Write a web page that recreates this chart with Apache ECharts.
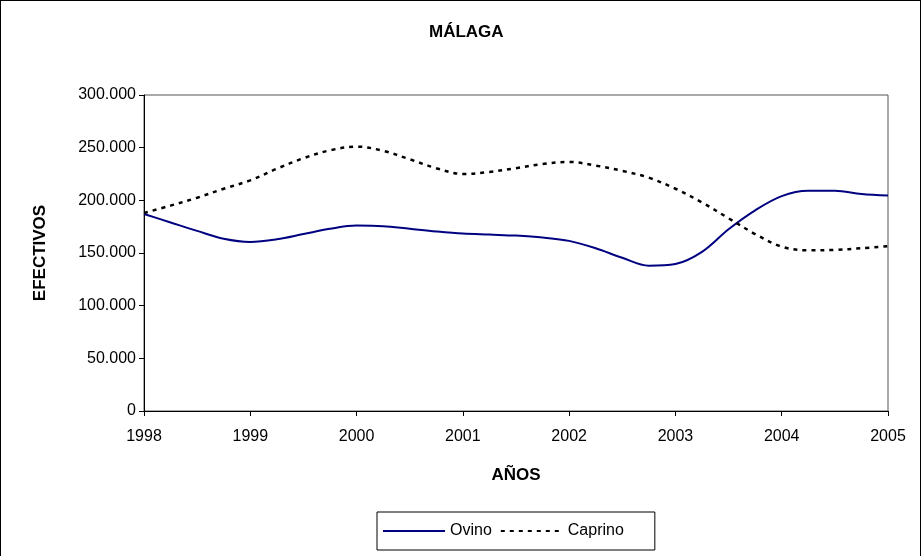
<!DOCTYPE html>
<html>
<head>
<meta charset="utf-8">
<script src="https://cdn.jsdelivr.net/npm/echarts@6/dist/echarts.min.js"></script>
<style>
  html, body { margin: 0; padding: 0; background: #fff; }
  #chart { width: 921px; height: 556px; box-sizing: border-box; border: 1px solid #000; border-bottom: none; }
</style>
</head>
<body>
<div id="chart"></div>
<script>
// Census sample dates (fractional years, quarterly)
const fechas = [
  1998.00, 1998.25, 1998.50, 1998.75,
  1999.00, 1999.25, 1999.50, 1999.75,
  2000.00, 2000.25, 2000.50, 2000.75,
  2001.00, 2001.25, 2001.50, 2001.75,
  2002.00, 2002.25, 2002.50, 2002.75,
  2003.00, 2003.25, 2003.50, 2003.75,
  2004.00, 2004.25, 2004.50, 2004.75,
  2005.00
];

// Head counts (animals)
const ovino = [
  187000, 179000, 171000, 163500,
  160500, 163000, 168000, 173000,
  176000, 175500, 173000, 170500,
  168500, 167500, 166500, 164700,
  161500, 154500, 145500, 138000,
  139500, 151000, 172500, 190500,
  204000, 209000, 209000, 206000,
  204500
];

const caprino = [
  188000, 195000, 202500, 211000,
  219000, 230000, 240000, 247500,
  251000, 247000, 239000, 230500,
  225000, 227000, 230500, 234500,
  236500, 233000, 228000, 221500,
  211000, 198000, 183000, 168000,
  156000, 152500, 153000, 154500,
  156500
];

const anios = [1998, 1999, 2000, 2001, 2002, 2003, 2004, 2005];

const FONT = '"Liberation Sans", Arial, sans-serif';

function pares(xs, ys) {
  return xs.map((x, i) => [x, ys[i]]);
}

function miles(v) {
  return String(Math.round(v)).replace(/\B(?=(\d{3})+(?!\d))/g, '.');
}

const chart = echarts.init(document.getElementById('chart'), null, { renderer: 'canvas' });

chart.setOption({
  animation: false,
  backgroundColor: '#fff',
  title: {
    text: 'MÁLAGA',
    left: 428,
    top: 23,
    padding: 0,
    textStyle: { fontFamily: FONT, fontWeight: 'bold', fontSize: 17, color: '#000' }
  },
  grid: {
    left: 143, right: 32, top: 94, bottom: 145,
    show: true, borderColor: '#555', borderWidth: 1, backgroundColor: 'transparent'
  },
  xAxis: {
    type: 'value',
    min: anios[0],
    max: anios[anios.length - 1],
    interval: 1,
    name: 'AÑOS',
    nameLocation: 'middle',
    nameGap: 56,
    nameTextStyle: { fontFamily: FONT, fontWeight: 'bold', fontSize: 17, color: '#000' },
    axisLine: { show: true, lineStyle: { color: '#000', width: 1 } },
    axisTick: { show: true, length: 5, lineStyle: { color: '#000' } },
    axisLabel: { fontFamily: FONT, fontSize: 16, color: '#000', margin: 18, formatter: v => String(v) },
    splitLine: { show: false }
  },
  yAxis: {
    type: 'value',
    min: 0,
    max: 300000,
    interval: 50000,
    name: 'EFECTIVOS',
    nameLocation: 'middle',
    nameGap: 95,
    nameRotate: 90,
    nameTextStyle: { fontFamily: FONT, fontWeight: 'bold', fontSize: 17, color: '#000' },
    axisLine: { show: true, lineStyle: { color: '#000', width: 1 } },
    axisTick: { show: true, length: 5, lineStyle: { color: '#000' } },
    axisLabel: { fontFamily: FONT, fontSize: 16, color: '#000', margin: 8, formatter: miles },
    splitLine: { show: false }
  },
  legend: {
    left: 376,
    top: 511,
    orient: 'horizontal',
    itemWidth: 62,
    itemHeight: 12,
    itemGap: 8,
    padding: [11, 31, 11, 5],
    borderColor: '#000',
    borderWidth: 1,
    // line-only keys: hide the marker symbol drawn on the key line
    itemStyle: { color: 'transparent', borderColor: 'transparent', borderWidth: 0, opacity: 0 },
    textStyle: { fontFamily: FONT, fontSize: 16, color: '#000' },
    data: ['Ovino', 'Caprino']
  },
  series: [
    {
      name: 'Ovino',
      type: 'line',
      data: pares(fechas, ovino),
      smooth: 0.35,
      showSymbol: false,
      symbol: 'none',
      lineStyle: { color: '#000080', width: 2, type: 'solid' },
      itemStyle: { color: '#000080' }
    },
    {
      name: 'Caprino',
      type: 'line',
      data: pares(fechas, caprino),
      smooth: 0.35,
      showSymbol: false,
      symbol: 'none',
      lineStyle: { color: '#000', width: 2.5, type: [4, 5] },
      itemStyle: { color: '#000' }
    }
  ]
});
</script>
</body>
</html>
